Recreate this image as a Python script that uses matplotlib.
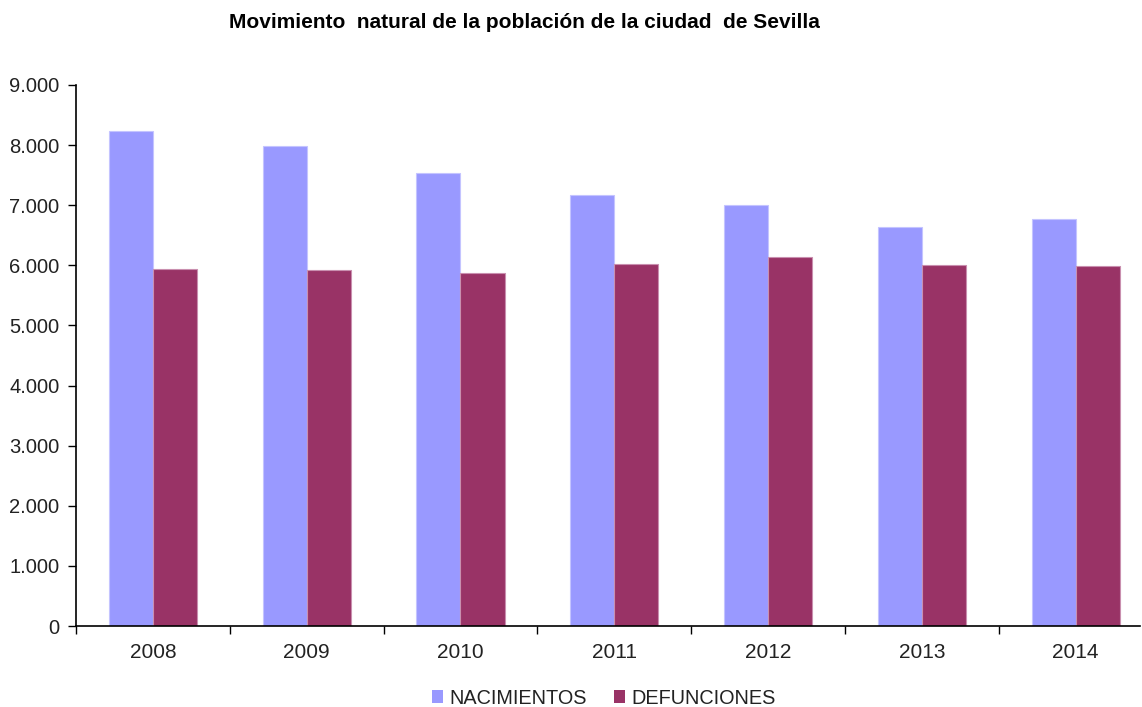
import matplotlib
matplotlib.use("Agg")
import matplotlib.pyplot as plt
from matplotlib.ticker import FuncFormatter, FixedLocator
from matplotlib.patches import Patch
import numpy as np

years = ["2008", "2009", "2010", "2011", "2012", "2013", "2014"]
nacimientos = [8236, 7985, 7537, 7172, 7005, 6640, 6772]
defunciones = [5940, 5920, 5875, 6020, 6140, 6005, 5990]

plt.rcParams['font.family'] = ['Liberation Sans', 'DejaVu Sans']

W, H = 1142, 707
fig = plt.figure(figsize=(W / 100, H / 100), dpi=100)
left, right, bottom, top = 76, 1140, 626, 85
ax = fig.add_axes([left / W, 1 - bottom / H, (right - left) / W, (bottom - top) / H])

x = np.arange(len(years))
bw = 0.287
c_nac = "#9999FF"
c_def = "#993366"
ax.bar(x - bw / 2, nacimientos, bw, color=c_nac, edgecolor="#C4C4FF", linewidth=0.8, label="NACIMIENTOS")
ax.bar(x + bw / 2, defunciones, bw, color=c_def, edgecolor="#C98FAF", linewidth=0.8, label="DEFUNCIONES")

unit = 153.8
ax.set_xlim(-0.5, (right - left) / unit - 0.5)
ax.set_ylim(0, 9000)

ax.set_yticks(range(0, 9001, 1000))
ax.yaxis.set_major_formatter(FuncFormatter(lambda v, p: f"{int(v):,}".replace(",", ".")))
ax.xaxis.set_major_locator(FixedLocator(np.arange(-0.5, len(years), 1.0)))
ax.xaxis.set_major_formatter(FuncFormatter(lambda v, p: ""))
ax.xaxis.set_minor_locator(FixedLocator(x))
ax.xaxis.set_minor_formatter(FuncFormatter(lambda v, p: years[int(round(v))] if 0 <= round(v) < len(years) else ""))
ax.tick_params(axis="x", which="major", direction="out", length=6, width=1, color="black")
ax.tick_params(axis="x", which="minor", length=0, pad=12, labelsize=15, labelcolor="#222222")
ax.tick_params(axis="y", direction="out", length=6, width=1, pad=6, labelsize=14.5, labelcolor="#222222")

for s in ["top", "right"]:
    ax.spines[s].set_visible(False)
for s in ["left", "bottom"]:
    ax.spines[s].set_linewidth(1.2)
    ax.spines[s].set_color("black")

fig.text(524 / W, 1 - 22 / H, "Movimiento  natural de la población de la ciudad  de Sevilla",
         ha="center", va="center", fontsize=15, fontweight="bold", color="black")

handles = [Patch(facecolor=c_nac, edgecolor="none", label="NACIMIENTOS"),
           Patch(facecolor=c_def, edgecolor="none", label="DEFUNCIONES")]
fig.legend(handles=handles, loc="center", bbox_to_anchor=(604 / W, 1 - 698 / H), ncol=2,
           frameon=False, fontsize=14.3, handlelength=0.55, handleheight=0.6,
           handletextpad=0.3, columnspacing=1.4, labelcolor="#222222")

fig.savefig("out.png", dpi=100)
